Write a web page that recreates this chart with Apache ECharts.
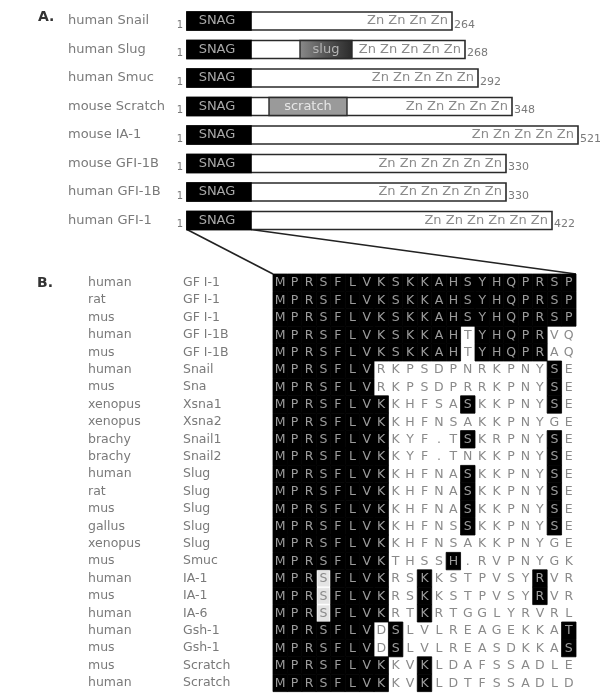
<!DOCTYPE html>
<html><head><meta charset="utf-8">
<script src="https://cdn.jsdelivr.net/npm/echarts@6/dist/echarts.min.js"></script>
<style>html,body{margin:0;padding:0;background:#fff}#c{width:600px;height:694px}</style>
</head><body><div id="c"></div>
<script>
// ---------- Panel A data ----------
const proteins = ['human Snail','human Slug','human Smuc','mouse Scratch','mouse IA-1','mouse GFI-1B','human GFI-1B','human GFI-1'];
const lengths = [264, 268, 292, 348, 521, 330, 330, 422];
const barEnds = [265, 278, 291, 325, 391, 319, 319, 365];   // schematic drawn extent
const snagEnds = [64, 64, 64, 64, 64, 64, 64, 64];
const zincCounts = [4, 5, 5, 5, 5, 6, 6, 6];
const midNames = [null, 'slug', null, 'scratch', null, null, null, null];
const midFrom = [null, 113, null, 82, null, null, null, null];
const midTo = [null, 165, null, 160, null, null, null, null];

// ---------- Panel B data ----------
const species = ['human','rat','mus','human','mus','human','mus','xenopus','xenopus','brachy','brachy','human','rat','mus','gallus','xenopus','mus','human','mus','human','human','mus','mus','human'];
const genes = ['GF I-1','GF I-1','GF I-1','GF I-1B','GF I-1B','Snail','Sna','Xsna1','Xsna2','Snail1','Snail2','Slug','Slug','Slug','Slug','Slug','Smuc','IA-1','IA-1','IA-6','Gsh-1','Gsh-1','Scratch','Scratch'];
const sequences = [
 'MPRSFLVKSKKAHSYHQPRSP',
 'MPRSFLVKSKKAHSYHQPRSP',
 'MPRSFLVKSKKAHSYHQPRSP',
 'MPRSFLVKSKKAHTYHQPRVQ',
 'MPRSFLVKSKKAHTYHQPRAQ',
 'MPRSFLVRKPSDPNRKPNYSE',
 'MPRSFLVRKPSDPRRKPNYSE',
 'MPRSFLVKKHFSASKKPNYSE',
 'MPRSFLVKKHFNSAKKPNYGE',
 'MPRSFLVKKYF.TSKRPNYSE',
 'MPRSFLVKKYF.TNKKPNYSE',
 'MPRSFLVKKHFNASKKPNYSE',
 'MPRSFLVKKHFNASKKPNYSE',
 'MPRSFLVKKHFNASKKPNYSE',
 'MPRSFLVKKHFNSSKKPNYSE',
 'MPRSFLVKKHFNSAKKPNYGE',
 'MPRSFLVKTHSSH.RVPNYGK',
 'MPRSFLVKRSKKSTPVSYRVR',
 'MPRSFLVKRSKKSTPVSYRVR',
 'MPRSFLVKRTKRTGGLYRVRL',
 'MPRSFLVDSLVLREAGEKKAT',
 'MPRSFLVDSLVLREASDKKAS',
 'MPRSFLVKKVKLDAFSSADLE',
 'MPRSFLVKKVKLDTFSSADLD'
];
// 1 = black shading, w = white box, 0 = none
const shading = [
 '111111111111111111111',
 '111111111111111111111',
 '111111111111111111111',
 '111111111111101111100',
 '111111111111101111100',
 '111111100000000000010',
 '111111100000000000010',
 '111111110000010000010',
 '111111110000000000000',
 '111111110000010000010',
 '111111110000000000010',
 '111111110000010000010',
 '111111110000010000010',
 '111111110000010000010',
 '111111110000010000010',
 '111111110000000000000',
 '111111110000100000000',
 '111w11110010000000100',
 '111w11110010000000100',
 '111w11110010000000000',
 '111111101000000000001',
 '111111101000000000001',
 '111111110010000000000',
 '111111110010000000000'
];
const nCols = sequences[0].length;
const colCats = Array.from({length: nCols}, (_, i) => String(i + 1));
const rowCats = species.map((s, i) => i);

const FONT = 'DejaVu Sans';
const GREY = '#7a7a7a';

const chart = echarts.init(document.getElementById('c'), null, {renderer: 'canvas'});

const aData = proteins.map((p, i) => [barEnds[i], i]);
const bData = [];
for (let r = 0; r < sequences.length; r++)
  for (let c = 0; c < nCols; c++) bData.push([c, r]);

chart.setOption({
  animation: false,
  backgroundColor: '#fff',
  grid: [
    {left: 187, top: 6.75, width: 400, height: 228},
    {left: 273, top: 274, width: 303, height: 417.6}
  ],
  xAxis: [
    {gridIndex: 0, type: 'value', min: 0, max: 400, show: false},
    {gridIndex: 1, type: 'category', data: colCats, show: false}
  ],
  yAxis: [
    {gridIndex: 0, type: 'category', data: proteins, inverse: true,
     axisLine: {show: false}, axisTick: {show: false}, splitLine: {show: false},
     axisLabel: {align: 'left', margin: 119, color: GREY, fontFamily: FONT, fontSize: 13}},
    {gridIndex: 1, type: 'category', data: rowCats, inverse: true,
     axisLine: {show: false}, axisTick: {show: false}, splitLine: {show: false},
     axisLabel: {align: 'left', margin: 185, color: GREY, fontFamily: FONT, fontSize: 12.5,
       formatter: v => '{a|' + species[v] + '}{b|' + genes[v] + '}',
       rich: {a: {width: 95, color: GREY, fontFamily: FONT, fontSize: 12.5},
              b: {color: GREY, fontFamily: FONT, fontSize: 12.5}}}}
  ],
  series: [
    {
      type: 'custom', xAxisIndex: 0, yAxisIndex: 0, data: aData,
      encode: {x: 0, y: 1},
      renderItem: function (params, api) {
        const i = params.dataIndex;
        const start = api.coord([0, i]);
        const end = api.coord([api.value(0), i]);
        const snag = api.coord([snagEnds[i], i]);
        const h = 18;
        const y = start[1] - h / 2;
        const ch = [];
        ch.push({type: 'rect', shape: {x: start[0], y: y, width: end[0] - start[0], height: h},
                 style: {fill: '#fff', stroke: '#2a2a2a', lineWidth: 1.6}});
        if (midNames[i]) {
          const a = api.coord([midFrom[i], i]), b = api.coord([midTo[i], i]);
          const fill = midNames[i] === 'slug'
            ? new echarts.graphic.LinearGradient(0, 0, 1, 0, [{offset: 0, color: '#8a8a8a'}, {offset: 0.5, color: '#555'}, {offset: 1, color: '#2a2a2a'}])
            : '#9a9a9a';
          ch.push({type: 'rect', shape: {x: a[0], y: y, width: b[0] - a[0], height: h},
                   style: {fill: fill, stroke: '#2a2a2a', lineWidth: 1.4}});
          ch.push({type: 'text', style: {text: midNames[i], x: (a[0] + b[0]) / 2, y: start[1],
                   align: 'center', verticalAlign: 'middle', fill: midNames[i] === 'slug' ? '#b5b5b5' : '#e6e6e6',
                   font: '13px "' + FONT + '"'}});
        }
        ch.push({type: 'rect', shape: {x: start[0], y: y, width: snag[0] - start[0], height: h},
                 style: {fill: '#000', stroke: '#000', lineWidth: 1.6}});
        ch.push({type: 'text', style: {text: 'SNAG', x: (start[0] + snag[0]) / 2 - 2, y: start[1],
                 align: 'center', verticalAlign: 'middle', fill: '#a8a8a8', font: '13px "' + FONT + '"'}});
        ch.push({type: 'text', style: {text: Array(zincCounts[i]).fill('Zn').join(' '), x: end[0] - 4, y: start[1],
                 align: 'right', verticalAlign: 'middle', fill: '#8a8a8a', font: '13px "' + FONT + '"'}});
        ch.push({type: 'text', style: {text: '1', x: start[0] - 4, y: start[1] + 4,
                 align: 'right', verticalAlign: 'middle', fill: GREY, font: '10px "' + FONT + '"'}});
        ch.push({type: 'text', style: {text: String(lengths[i]), x: end[0] + 2, y: start[1] + 4,
                 align: 'left', verticalAlign: 'middle', fill: GREY, font: '11px "' + FONT + '"'}});
        return {type: 'group', children: ch};
      }
    },
    {
      type: 'custom', xAxisIndex: 1, yAxisIndex: 1, data: bData,
      encode: {x: 0, y: 1},
      renderItem: function (params, api) {
        const c = api.value(0), r = api.value(1);
        const p = api.coord([c, r]);
        const s = api.size([1, 1]);
        const m = shading[r][c];
        const ch = [];
        if (m === '1') {
          ch.push({type: 'rect', shape: {x: p[0] - s[0] / 2, y: p[1] - s[1] / 2, width: s[0], height: s[1]},
                   style: {fill: '#000', stroke: '#000', lineWidth: 0.8}});
        } else if (m === 'w') {
          ch.push({type: 'rect', shape: {x: p[0] - s[0] / 2 + 1.5, y: p[1] - s[1] / 2 + 1, width: s[0] - 3, height: s[1] - 2},
                   style: {fill: '#e4e4e4', stroke: '#e4e4e4', lineWidth: 0.5}});
        }
        ch.push({type: 'text', style: {text: sequences[r][c], x: p[0], y: p[1] + 0.5,
                 align: 'center', verticalAlign: 'middle',
                 fill: m === '1' ? '#9c9c9c' : '#8a8a8a', font: '12.5px "' + FONT + '"'}});
        return {type: 'group', children: ch};
      }
    }
  ]
});

// connector lines from the GFI-1 SNAG box to the alignment block
const last = proteins.length - 1;
const gA0 = chart.convertToPixel({gridIndex: 0}, [0, last]);
const gA1 = chart.convertToPixel({gridIndex: 0}, [snagEnds[last], last]);
const b00 = chart.convertToPixel({gridIndex: 1}, [0, 0]);
const b10 = chart.convertToPixel({gridIndex: 1}, [nCols - 1, 0]);
const b01 = chart.convertToPixel({gridIndex: 1}, [0, 1]);
const cw = (b10[0] - b00[0]) / (nCols - 1);
const rh = b01[1] - b00[1];
const topY = b00[1] - rh / 2;
chart.setOption({
  graphic: [
    {type: 'line', shape: {x1: gA0[0], y1: gA0[1] + 9, x2: b00[0] - cw / 2, y2: topY}, style: {stroke: '#222', lineWidth: 1.6}},
    {type: 'line', shape: {x1: gA1[0], y1: gA1[1] + 9, x2: b10[0] + cw / 2, y2: topY}, style: {stroke: '#222', lineWidth: 1.6}},
    {type: 'text', left: 38, top: 10, style: {text: 'A.', font: 'bold 14px "' + FONT + '"', fill: '#333'}},
    {type: 'text', left: 37, top: 276, style: {text: 'B.', font: 'bold 14px "' + FONT + '"', fill: '#333'}}
  ]
});
</script></body></html>
